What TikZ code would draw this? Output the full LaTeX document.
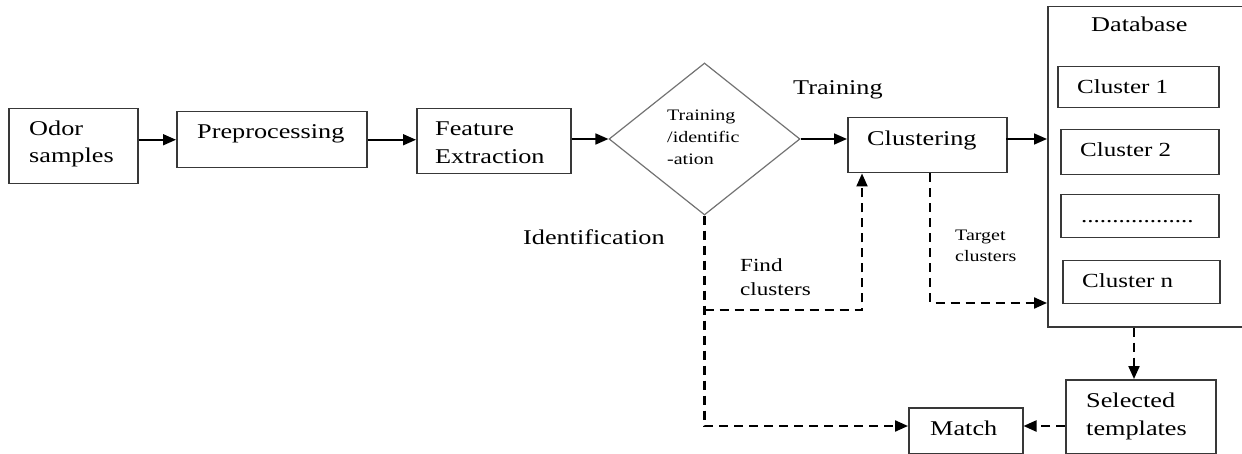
\documentclass[tikz,border=0pt]{standalone}
\usepackage{fontspec}
\setmainfont{Liberation Serif}[FakeStretch=1.25]
\usetikzlibrary{shapes.geometric,arrows.meta}
\begin{document}
\begin{tikzpicture}[x=1pt,y=-1pt,
  box/.style={draw=black!78, line width=1.5pt, inner sep=0, anchor=north west},
  txt/.style={anchor=base west, inner sep=0, font=\fontsize{21}{25}\selectfont},
  txtm/.style={anchor=base west, inner sep=0, font=\fontsize{20}{24}\selectfont},
  txtf/.style={anchor=base west, inner sep=0, font=\fontsize{18.5}{22}\selectfont},
  txts/.style={anchor=base west, inner sep=0, font=\fontsize{16}{19}\selectfont},
  arr/.style={line width=1.7pt, -{Triangle[length=13pt,width=11pt]}},
  darr/.style={line width=2.2pt, dash pattern=on 9pt off 6pt, -{Triangle[length=13pt,width=11pt]}}]
\useasboundingbox (0,0) rectangle (1242,454);

% boxes
\node[box, minimum width=129, minimum height=75] (odor) at (8,108) {};
\node[box, minimum width=190, minimum height=56] (pre) at (176,111) {};
\node[box, minimum width=154, minimum height=65] (feat) at (416,108) {};
\node[draw=black!55, line width=1.2pt, shape=diamond, inner sep=0, minimum width=191, minimum height=152] (dia) at (704.5,139) {};
\node[box, minimum width=159, minimum height=55] (clu) at (847,117) {};
\node[box, minimum width=198, minimum height=320] (db) at (1047,6) {};
\node[box, minimum width=161, minimum height=41] (c1) at (1057,66) {};
\node[box, minimum width=158, minimum height=45] (c2) at (1060,129) {};
\node[box, minimum width=158, minimum height=43] (cd) at (1060,194) {};
\node[box, minimum width=157, minimum height=43] (cn) at (1062,260) {};
\node[box, minimum width=150, minimum height=74] (sel) at (1065,379) {};
\node[box, minimum width=114, minimum height=46] (match) at (908,407) {};

% texts
\node[txt] (t-odor1) at (29,136) {Odor};
\node[txt] (t-odor2) at (29,163) {samples};
\node[txt] (t-pre) at (197,139) {Preprocessing};
\node[txt] (t-feat1) at (435,136) {Feature};
\node[txt] (t-feat2) at (435,164) {Extraction};
\node[txts] (t-dia1) at (667,121) {Training};
\node[txts] (t-dia2) at (667,143) {/identific};
\node[txts] (t-dia3) at (667,165) {-ation};
\node[txt] (t-train) at (793,95) {Training};
\node[txt] (t-clu) at (867,146) {Clustering};
\node[txt] (t-ident) at (523,245) {Identification};
\node[txtf] (t-find1) at (740,272) {Find};
\node[txtf] (t-find2) at (740,295) {clusters};
\node[txts] (t-tc1) at (955,241) {Target};
\node[txts] (t-tc2) at (955,262) {clusters};
\node[txt] (t-db) at (1091,32) {Database};
\node[txtm] (t-c1) at (1077,94) {Cluster 1};
\node[txtm] (t-c2) at (1080,157) {Cluster 2};
\node[txtm] (t-cd) at (1081,223) {..................};
\node[txtm] (t-cn) at (1082,288) {Cluster n};
\node[txt] (t-sel1) at (1086,407) {Selected};
\node[txt] (t-sel2) at (1086,435) {templates};
\node[txt] (t-match) at (930,435) {Match};

% solid connectors
\draw[arr] (odor.east |- pre.west) -- (pre.west);
\draw[arr] (pre.east) -- (pre.east -| feat.west);
\draw[arr] (feat.east |- dia.west) -- (dia.west);
\draw[arr] (dia.east) -- (dia.east -| clu.west);
\coordinate (cdb) at (1006,139);
\draw[arr] (cdb) -- (cdb -| db.west);

% dashed connectors
\coordinate (mj) at (908,426);
\draw[darr] (dia.south) -- (dia.south |- mj) -- (mj);
\coordinate (fc) at (862,310);
\draw[darr] (dia.south |- fc) -- (fc) -- (fc |- clu.south);
\coordinate (tc) at (930,303);
\draw[darr] (tc |- clu.south) -- (tc) -- (tc -| db.west);
\coordinate (ds) at (1134,0);
\draw[darr] (ds |- db.south) -- (ds |- sel.north);
\draw[darr] (sel.west |- mj) -- (match.east |- mj);
\end{tikzpicture}
\end{document}
